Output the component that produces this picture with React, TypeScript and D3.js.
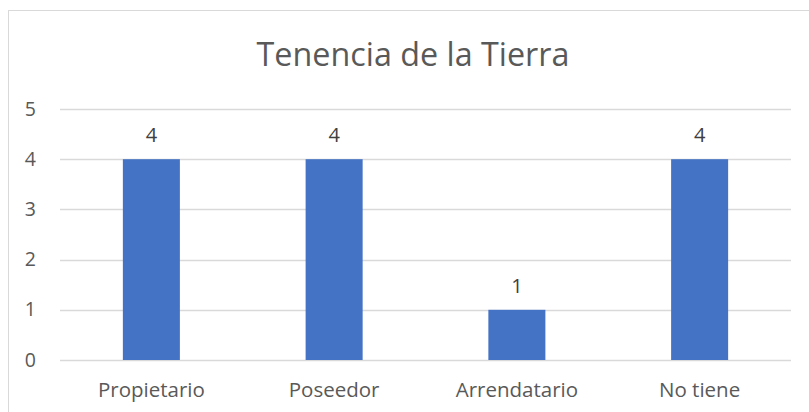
import { useEffect, useRef } from "react";
import * as d3 from "d3";

const categories = ["Propietario", "Poseedor", "Arrendatario", "No tiene"];
const values = [4, 4, 1, 4];
const yTicks = [0, 1, 2, 3, 4, 5];
const title = "Tenencia de la Tierra";

const W = 809;
const H = 412;
const FONT = "'Open Sans', sans-serif";
const TEXT = "#595959";

export default function App() {
  const ref = useRef<SVGSVGElement>(null);

  useEffect(() => {
    const svg = d3.select(ref.current);
    svg.selectAll("*").remove();

    const margin = { top: 109, right: 18, bottom: 52, left: 60 };

    // chart frame, runs off the right and bottom edge
    svg.append("rect")
      .attr("x", 8.5).attr("y", 10.5)
      .attr("width", 830).attr("height", 430)
      .attr("fill", "#fff")
      .attr("stroke", "#d9d9d9");

    svg.append("text")
      .attr("x", 413).attr("y", 66)
      .attr("text-anchor", "middle")
      .attr("font-family", FONT)
      .attr("font-size", 32.3)
      .attr("fill", TEXT)
      .text(title);

    const x = d3.scaleBand()
      .domain(categories)
      .range([margin.left, W - margin.right])
      .paddingInner(0.688)
      .paddingOuter(0.344);

    const y = d3.scaleLinear()
      .domain([0, 5])
      .range([H - margin.bottom, margin.top]);

    // gridlines
    svg.append("g")
      .selectAll("line")
      .data(yTicks)
      .enter()
      .append("line")
      .attr("x1", margin.left).attr("x2", W - margin.right)
      .attr("y1", d => Math.round(y(d)) + 0.5)
      .attr("y2", d => Math.round(y(d)) + 0.5)
      .attr("stroke", "#d9d9d9")
      .attr("stroke-width", 1.3);

    svg.append("g")
      .selectAll("text")
      .data(yTicks)
      .enter()
      .append("text")
      .attr("x", 36)
      .attr("y", d => y(d) + 6.5)
      .attr("text-anchor", "end")
      .attr("font-family", FONT)
      .attr("font-size", 19.5)
      .attr("fill", TEXT)
      .text(d => d);

    // bars
    svg.append("g")
      .selectAll("rect")
      .data(values)
      .enter()
      .append("rect")
      .attr("x", (d, i) => x(categories[i])!)
      .attr("width", x.bandwidth())
      .attr("y", d => y(d))
      .attr("height", d => y(0) - y(d))
      .attr("fill", "#4472c4");

    // value labels
    svg.append("g")
      .selectAll("text")
      .data(values)
      .enter()
      .append("text")
      .attr("x", (d, i) => x(categories[i])! + x.bandwidth() / 2)
      .attr("y", d => y(d) - 17)
      .attr("text-anchor", "middle")
      .attr("font-family", FONT)
      .attr("font-size", 20)
      .attr("fill", "#404040")
      .text(d => d);

    // category labels
    svg.append("g")
      .selectAll("text")
      .data(categories)
      .enter()
      .append("text")
      .attr("x", d => x(d)! + x.bandwidth() / 2)
      .attr("y", 397)
      .attr("text-anchor", "middle")
      .attr("font-family", FONT)
      .attr("font-size", 20.5)
      .attr("fill", TEXT)
      .text(d => d);
  }, []);

  return (
    <svg ref={ref} width={W} height={H}
      style={{ position: "absolute", left: 0, top: 0, background: "#fff" }} />
  );
}
